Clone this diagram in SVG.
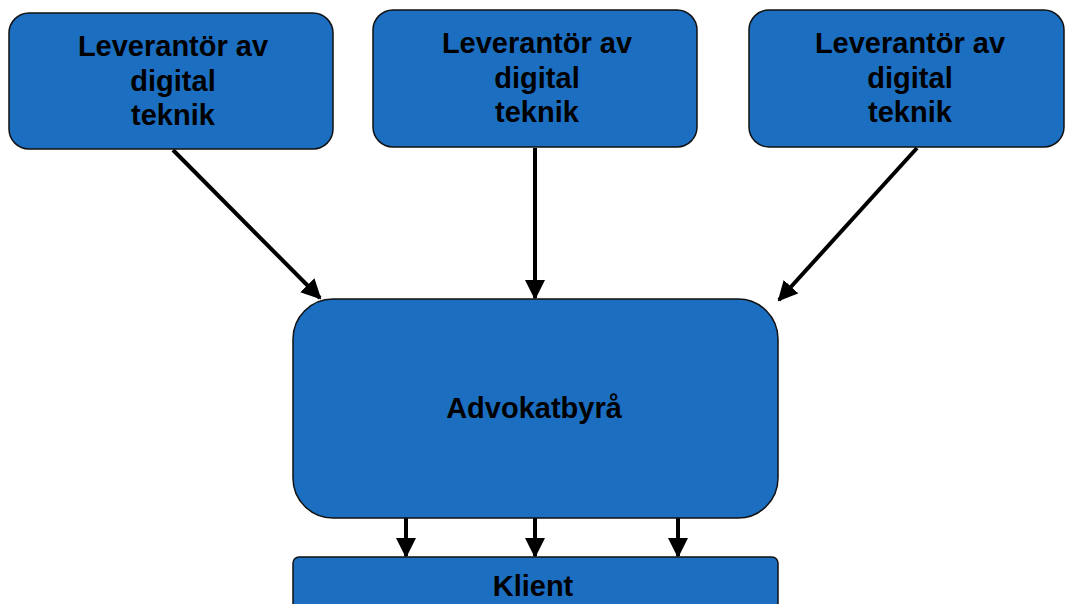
<svg xmlns="http://www.w3.org/2000/svg" width="1065" height="604" viewBox="0 0 1065 604">
<defs>
<style>
.box{fill:#1b6ec0;stroke:#111;stroke-width:1.5}
.t{font-family:"Liberation Sans",Arial,sans-serif;font-weight:bold;font-size:29px;fill:#000;text-anchor:middle}
.c{stroke:#000;stroke-width:4;fill:none}
</style>
<marker id="ah" markerWidth="5" markerHeight="5" refX="4.5" refY="2.5" orient="auto" markerUnits="strokeWidth">
<path d="M0,0 L5,2.5 L0,5 Z" fill="#000"/>
</marker>
</defs>
<rect width="1065" height="604" fill="#fff"/>
<g id="connectors">
<line class="c" x1="173" y1="150" x2="320" y2="298" marker-end="url(#ah)"/>
<line class="c" x1="535" y1="148" x2="535" y2="298" marker-end="url(#ah)"/>
<line class="c" x1="917" y1="148" x2="779" y2="300" marker-end="url(#ah)"/>
<line class="c" x1="406" y1="518" x2="406" y2="556" marker-end="url(#ah)"/>
<line class="c" x1="535" y1="518" x2="535" y2="556" marker-end="url(#ah)"/>
<line class="c" x1="678" y1="518" x2="678" y2="556" marker-end="url(#ah)"/>
</g>
<g id="lev1">
<rect class="box" x="9" y="13" width="324" height="136" rx="20"/>
<text class="t" x="173" y="56">Leverantör av</text>
<text class="t" x="173" y="91">digital</text>
<text class="t" x="173" y="125">teknik</text>
</g>
<g id="lev2">
<rect class="box" x="373" y="10" width="324" height="137" rx="20"/>
<text class="t" x="537" y="53">Leverantör av</text>
<text class="t" x="537" y="88">digital</text>
<text class="t" x="537" y="122">teknik</text>
</g>
<g id="lev3">
<rect class="box" x="749" y="10" width="315" height="137" rx="20"/>
<text class="t" x="910" y="53">Leverantör av</text>
<text class="t" x="910" y="88">digital</text>
<text class="t" x="910" y="122">teknik</text>
</g>
<g id="advokatbyra">
<rect class="box" x="293" y="299" width="485" height="219" rx="40"/>
<text class="t" x="534" y="418">Advokatbyrå</text>
</g>
<g id="klient">
<rect class="box" x="293" y="557" width="485" height="60" rx="6"/>
<text class="t" x="533" y="596">Klient</text>
</g>
</svg>
